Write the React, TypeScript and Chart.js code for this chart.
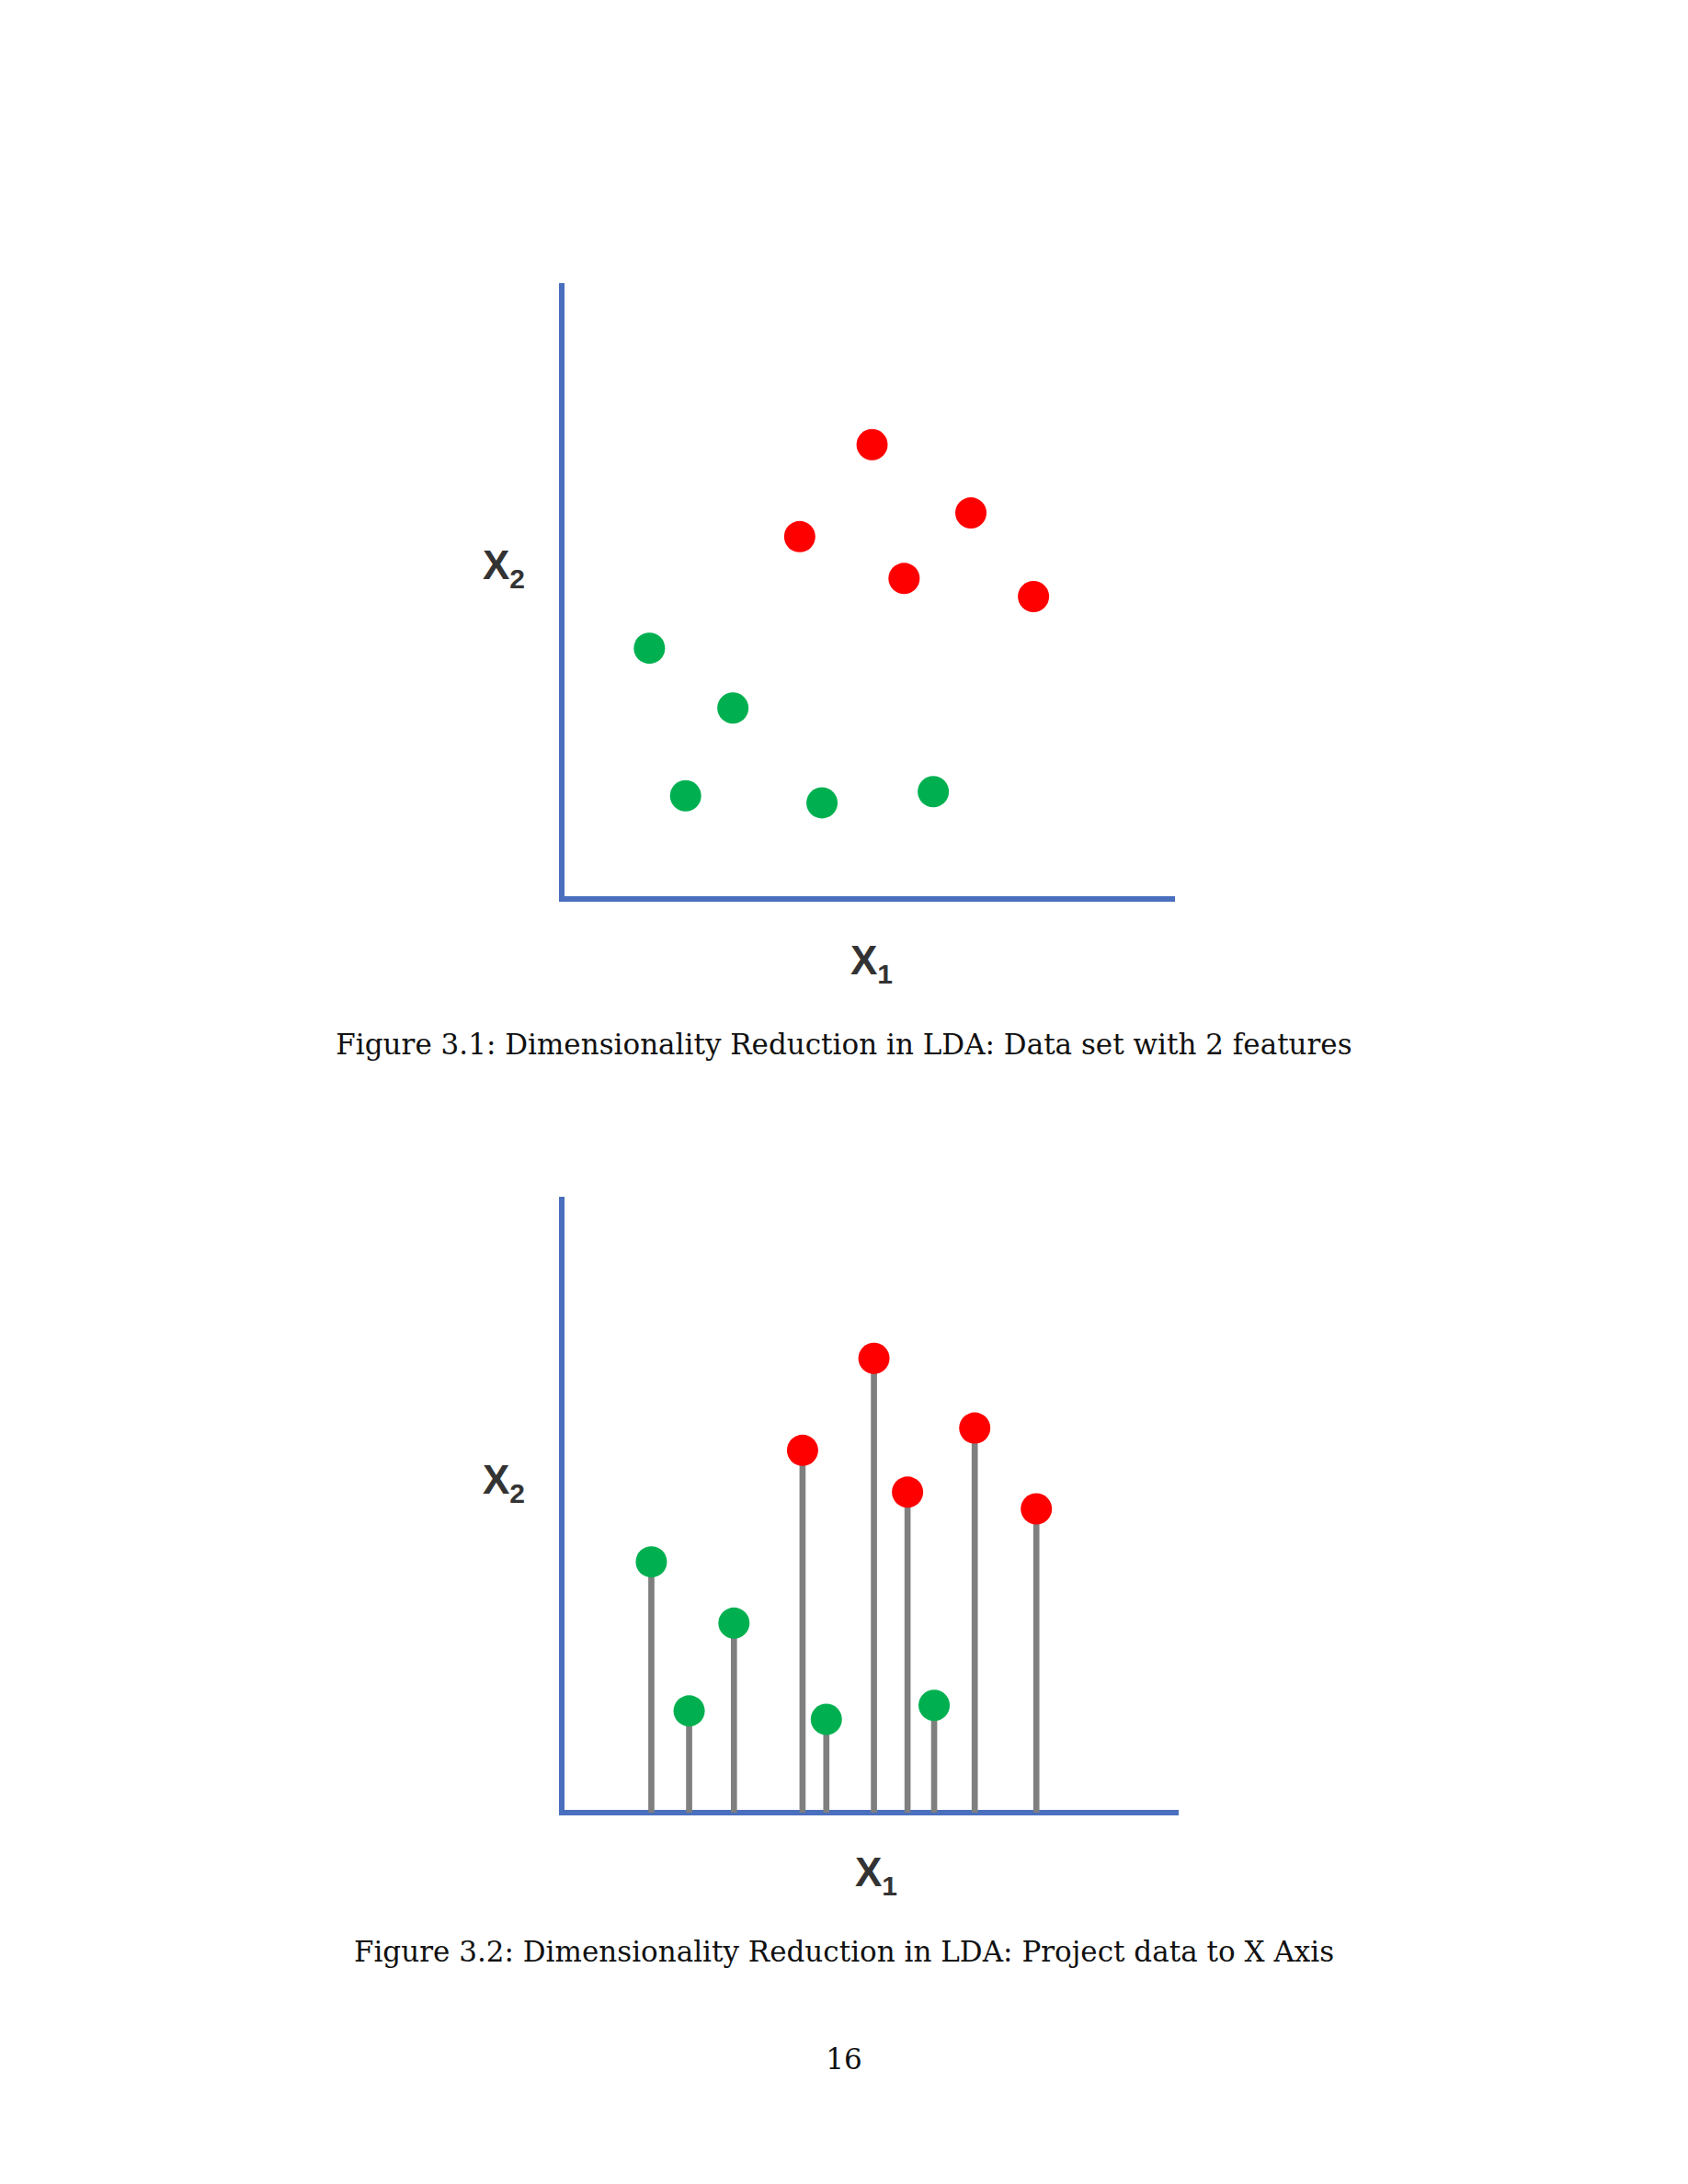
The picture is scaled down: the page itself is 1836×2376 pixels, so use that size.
import React, { useEffect, useRef } from 'react';
import { Chart, registerables } from 'chart.js';

Chart.register(...registerables);

// feature space coordinates (x1, x2), same scale for both figures
const redX1 = [223, 171, 294, 246, 339];
const redX2 = [326, 260, 277, 230, 217];
const greenX1 = [63, 123, 89, 187, 267];
const greenX2 = [180, 137, 74, 69, 77];
// second figure (slightly shifted in the source image)
const redX1b = [172, 223, 247, 295, 339];
const redX2b = [260, 326, 230, 276, 218];
const greenX1b = [64, 91, 123, 189, 266];
const greenX2b = [180, 73, 136, 67, 77];

const AXIS_BLUE = '#4a6fbe';
const PAD = 20;

const pts = (xs: number[], ys: number[]) => xs.map((x, i) => ({ x, y: ys[i] }));

const Plot = ({ rx, ry, gx, gy, stems, left, top, w, h }: any) => {
  const ref = useRef<HTMLCanvasElement | null>(null);
  useEffect(() => {
    if (!ref.current) return;
    const datasets: any[] = [
      { type: 'scatter', data: pts(rx, ry), backgroundColor: '#ff0000', pointRadius: 17, pointBorderWidth: 0, order: 0 },
      { type: 'scatter', data: pts(gx, gy), backgroundColor: '#00b050', pointRadius: 17, pointBorderWidth: 0, order: 0 },
    ];
    if (stems) {
      datasets.push({
        type: 'bar',
        data: [...pts(rx, ry), ...pts(gx, gy)],
        backgroundColor: '#7f7f7f',
        barThickness: 6,
        order: 1,
      });
    }
    const chart = new Chart(ref.current, {
      type: 'scatter',
      data: { datasets },
      options: {
        animation: false,
        responsive: true,
        maintainAspectRatio: false,
        layout: { padding: PAD },
        plugins: { legend: { display: false }, tooltip: { enabled: false } },
        scales: {
          x: {
            type: 'linear', min: 0, max: 440, offset: false,
            ticks: { display: false }, grid: { display: false, drawTicks: false, offset: false },
            border: { color: AXIS_BLUE, width: 6 },
          },
          y: {
            type: 'linear', min: 0, max: 440,
            ticks: { display: false }, grid: { display: false, drawTicks: false },
            border: { color: AXIS_BLUE, width: 6 },
          },
        },
      } as any,
    });
    return () => chart.destroy();
  }, []);
  return (
    <div style={{ position: 'absolute', left: left - PAD, top: top - PAD, width: w + 2 * PAD, height: h + 2 * PAD }}>
      <canvas ref={ref} />
    </div>
  );
};

const axisLabel = (sub: string, left: number, top: number) => (
  <div style={{ position: 'absolute', left, top, fontFamily: 'Arial, "Liberation Sans", sans-serif', fontWeight: 'bold', fontSize: 44, color: '#333' }}>
    X<sub style={{ fontSize: 30 }}>{sub}</sub>
  </div>
);

const caption = (text: string, top: number) => (
  <div style={{ position: 'absolute', left: 0, width: 1836, top, textAlign: 'center', fontFamily: '"DejaVu Serif", "Liberation Serif", serif', fontSize: 31, color: '#111' }}>
    {text}
  </div>
);

export default function App() {
  useEffect(() => {
    document.body.style.margin = '0';
  }, []);
  return (
    <div style={{ position: 'relative', width: 1836, height: 2376, background: '#fff' }}>
      <Plot rx={redX1} ry={redX2} gx={greenX1} gy={greenX2} stems={false} left={611} top={311} w={666} h={667} />
      {axisLabel('2', 525, 590)}
      {axisLabel('1', 925, 1020)}
      {caption('Figure 3.1: Dimensionality Reduction in LDA: Data set with 2 features', 1118)}
      <Plot rx={redX1b} ry={redX2b} gx={greenX1b} gy={greenX2b} stems={true} left={611} top={1305} w={670} h={667} />
      {axisLabel('2', 525, 1585)}
      {axisLabel('1', 930, 2012)}
      {caption('Figure 3.2: Dimensionality Reduction in LDA: Project data to X Axis', 2105)}
      {caption('16', 2222)}
    </div>
  );
}
